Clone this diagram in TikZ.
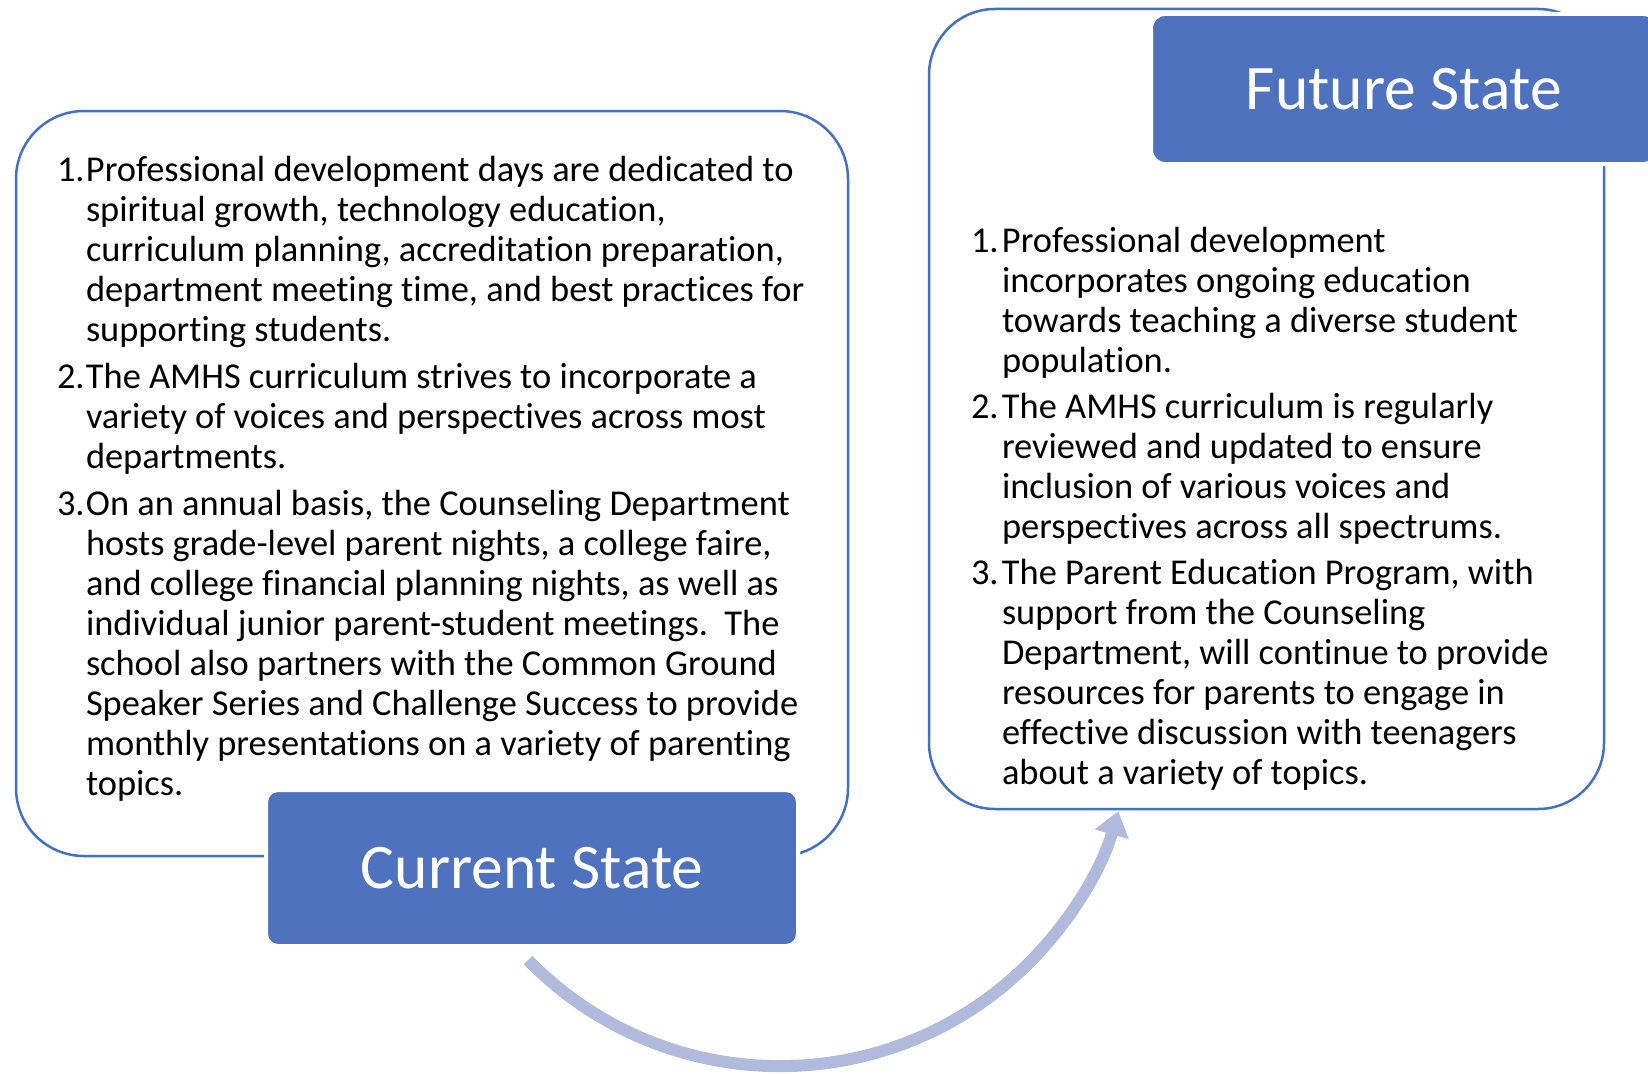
\documentclass[tikz,border=0pt]{standalone}
\usepackage{fontspec}
\setmainfont{Carlito}[Ligatures=NoCommon]
\usetikzlibrary{arrows.meta}
\definecolor{boxblue}{RGB}{78,114,190}
\definecolor{lineblue}{RGB}{68,112,194}
\definecolor{flowblue}{RGB}{176,186,220}
% one numbered entry with a hanging indent
\newcommand\listentry[3]{\hangindent=#1\hangafter=1\noindent\makebox[#1][l]{#2}#3\par}
\begin{document}
\begin{tikzpicture}[x=1pt,y=-1pt,
  panel/.style={draw=lineblue, line width=2.5pt, rounded corners=68pt, fill=white,
    inner sep=0pt, outer sep=0pt},
  tag/.style={fill=boxblue, draw=white, line width=4pt, rounded corners=12pt,
    inner sep=0pt, outer sep=0pt, text=white, font=\fontsize{63.5}{70}\selectfont,
    text height=41pt, text depth=0pt, align=center},
  listtext/.style={anchor=base west, inner sep=0pt, outer sep=0pt,
    font=\fontsize{36.4}{40}\selectfont},
  flow/.style={draw=flowblue, line width=12pt, -{Triangle[width=34pt,length=24pt]}}]
\useasboundingbox (0,0) rectangle (1648,1073);

% current state panel and its tag
\node[panel, minimum width=832pt, minimum height=745pt] (curpanel) at (432,483.5) {};
\node[listtext] (curlist) at (57,181) {\vtop{\hsize=800pt \parindent=0pt \parskip=7pt
  \rightskip=0pt plus 1fil
  \listentry{29pt}{1.}{Professional development days are dedicated to\\
    spiritual growth, technology education,\\
    curriculum planning, accreditation preparation,\\
    department meeting time, and best practices for\\
    supporting students.}
  \listentry{29pt}{2.}{The AMHS curriculum strives to incorporate a\\
    variety of voices and perspectives across most\\
    departments.}
  \listentry{29pt}{3.}{On an annual basis, the Counseling Department\\
    hosts grade-level parent nights, a college faire,\\
    and college financial planning nights, as well as\\
    individual junior parent-student meetings.\ \ The\\
    school also partners with the Common Ground\\
    Speaker Series and Challenge Success to provide\\
    monthly presentations on a variety of parenting\\
    topics.}}};
\node[tag, minimum width=532pt, minimum height=156pt] (curtag) at (532,868) {Current State};

% future state panel and its tag
\node[panel, minimum width=675pt, minimum height=800pt, rounded corners=66pt] (futpanel) at (1266.5,409) {};
\node[listtext] (futlist) at (971,252) {\vtop{\hsize=640pt \parindent=0pt \parskip=6pt
  \rightskip=0pt plus 1fil
  \listentry{31pt}{1.}{Professional development\\
    incorporates ongoing education\\
    towards teaching a diverse student\\
    population.}
  \listentry{31pt}{2.}{The AMHS curriculum is regularly\\
    reviewed and updated to ensure\\
    inclusion of various voices and\\
    perspectives across all spectrums.}
  \listentry{31pt}{3.}{The Parent Education Program, with\\
    support from the Counseling\\
    Department, will continue to provide\\
    resources for parents to engage in\\
    effective discussion with teenagers\\
    about a variety of topics.}}};
\node[tag, minimum width=506pt, minimum height=150pt, rounded corners=14pt] (futtag) at (1404,89) {Future State};

% curved flow from the current state to the future state
\coordinate (flowstart) at (528,960);
\draw[flow] (flowstart) arc[start angle=135.7, end angle=16, radius=352];
\end{tikzpicture}
\end{document}
